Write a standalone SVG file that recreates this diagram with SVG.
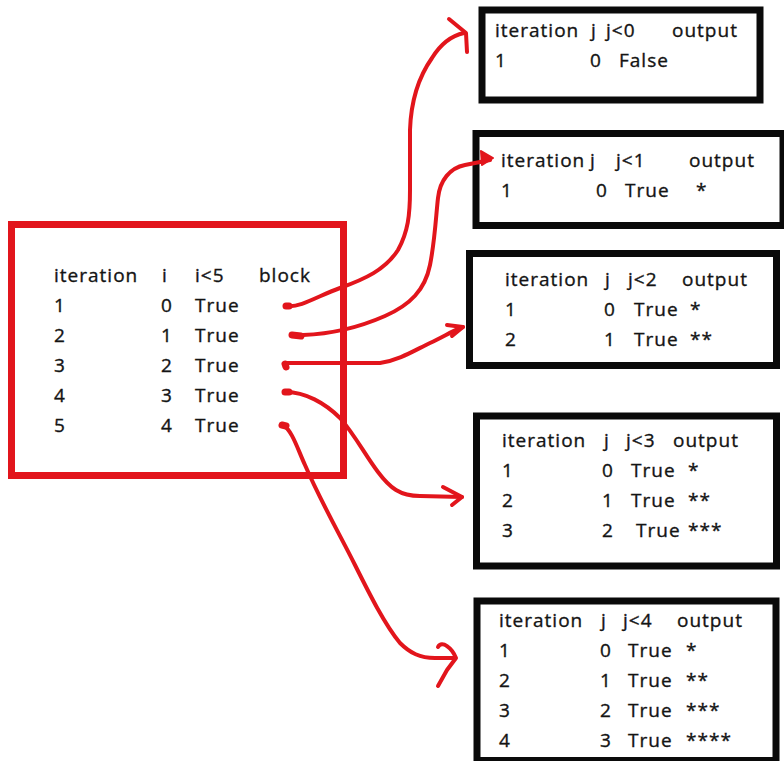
<svg xmlns="http://www.w3.org/2000/svg" width="784" height="761" viewBox="0 0 784 761">
  <style>
    text { font-family: "Open Sans", "Liberation Sans", sans-serif; font-size: 19px; letter-spacing: 1px; fill: #141414; stroke: #141414; stroke-width: 0.35; }
    .frame { fill: none; stroke: #0a0a0a; stroke-width: 7; }
    .outer { fill: none; stroke: #e2151c; stroke-width: 7; }
    .ink { fill: none; stroke: #e2151c; stroke-width: 4; stroke-linecap: round; stroke-linejoin: round; }
    .dot { fill: none; stroke: #e2151c; stroke-width: 7; stroke-linecap: round; }
  </style>
  <rect width="784" height="761" fill="#ffffff"/>

  <!-- outer loop: i from 0 to 4 -->
  <g id="outer-loop">
    <rect class="outer" x="11.5" y="224.5" width="332" height="251"/>
    <text x="54" y="282">iteration</text><text x="162" y="282">i</text><text x="195" y="282">i&lt;5</text><text x="259" y="282">block</text>
    <text x="54" y="312">1</text><text x="161" y="312">0</text><text x="195" y="312">True</text>
    <text x="54" y="342">2</text><text x="161" y="342">1</text><text x="195" y="342">True</text>
    <text x="54" y="372">3</text><text x="161" y="372">2</text><text x="195" y="372">True</text>
    <text x="54" y="402">4</text><text x="161" y="402">3</text><text x="195" y="402">True</text>
    <text x="54" y="432">5</text><text x="161" y="432">4</text><text x="195" y="432">True</text>
  </g>

  <!-- inner loop, i = 0 -->
  <g id="inner-0">
    <rect class="frame" x="482" y="10" width="278" height="90" stroke-width="6"/>
    <text x="495" y="37">iteration</text><text x="591" y="37">j</text><text x="606" y="37">j&lt;0</text><text x="672" y="37">output</text>
    <text x="495" y="67">1</text><text x="590" y="67">0</text><text x="619" y="67">False</text>
  </g>

  <!-- inner loop, i = 1 -->
  <g id="inner-1">
    <rect class="frame" x="476" y="133.5" width="307" height="92"/>
    <text x="501" y="167">iteration</text><text x="590" y="167">j</text><text x="616" y="167">j&lt;1</text><text x="689" y="167">output</text>
    <text x="501" y="197">1</text><text x="596" y="197">0</text><text x="625" y="197">True</text><text x="696" y="197">*</text>
  </g>

  <!-- inner loop, i = 2 -->
  <g id="inner-2">
    <rect class="frame" x="469.5" y="253.5" width="307" height="112"/>
    <text x="505" y="286">iteration</text><text x="605" y="286">j</text><text x="628" y="286">j&lt;2</text><text x="682" y="286">output</text>
    <text x="505" y="316">1</text><text x="604" y="316">0</text><text x="634" y="316">True</text><text x="690" y="316">*</text>
    <text x="505" y="346">2</text><text x="604" y="346">1</text><text x="634" y="346">True</text><text x="690" y="346">**</text>
  </g>

  <!-- inner loop, i = 3 -->
  <g id="inner-3">
    <rect class="frame" x="476.5" y="416" width="300" height="150"/>
    <text x="502" y="447">iteration</text><text x="604" y="447">j</text><text x="626" y="447">j&lt;3</text><text x="673" y="447">output</text>
    <text x="502" y="477">1</text><text x="602" y="477">0</text><text x="631" y="477">True</text><text x="688" y="477">*</text>
    <text x="502" y="507">2</text><text x="602" y="507">1</text><text x="631" y="507">True</text><text x="688" y="507">**</text>
    <text x="502" y="537">3</text><text x="602" y="537">2</text><text x="636" y="537">True</text><text x="688" y="537">***</text>
  </g>

  <!-- inner loop, i = 4 -->
  <g id="inner-4">
    <rect class="frame" x="477" y="601" width="299" height="159.5"/>
    <text x="499" y="627">iteration</text><text x="601" y="627">j</text><text x="623" y="627">j&lt;4</text><text x="677" y="627">output</text>
    <text x="499" y="657">1</text><text x="600" y="657">0</text><text x="628" y="657">True</text><text x="686" y="657">*</text>
    <text x="499" y="687">2</text><text x="600" y="687">1</text><text x="628" y="687">True</text><text x="686" y="687">**</text>
    <text x="499" y="717">3</text><text x="600" y="717">2</text><text x="628" y="717">True</text><text x="686" y="717">***</text>
    <text x="499" y="747">4</text><text x="600" y="747">3</text><text x="628" y="747">True</text><text x="686" y="747">****</text>
  </g>

  <!-- hand-drawn arrows from each block to its inner loop -->
  <g id="connectors">
    <path class="dot" d="M286,306 L289,306"/>
    <path class="ink" d="M287,306 C300,308 320,295 340,288 C365,279 385,270 398,250 C408,232 410,215 410,190 L410,130 C411,100 420,75 432,58 C440,45 450,36 464,33"/>
    <path class="ink" d="M449,19 L466,33 L467,52"/>

    <path class="dot" d="M292,335 L301,336"/>
    <path class="ink" d="M292,335 L303,335 C330,334 360,327 385,316 C410,305 425,290 430,265 C435,240 436,215 438,198 C440,180 450,168 465,165 L490,160"/>
    <path d="M481,151 L493,158 L482,165 Z" fill="#e2151c" stroke="#e2151c" stroke-width="2" stroke-linejoin="round"/>

    <path class="dot" d="M285,364 L286,367"/>
    <path class="ink" d="M285,363 L380,363 C400,360 415,350 430,343 C445,336 452,331 463,327"/>
    <path class="ink" d="M447,325 L463,327 L452,336"/>

    <path class="dot" d="M285,392 L289,392"/>
    <path class="ink" d="M286,392 C305,392 325,403 340,418 C355,435 365,455 378,472 C390,488 400,496 420,496 L462,497"/>
    <path class="ink" d="M443,487 L462,497 L452,505"/>

    <path class="dot" d="M282,425 L286,426"/>
    <path class="ink" d="M283,425 C292,430 298,450 305,465 C320,500 340,535 355,565 C370,595 385,625 400,643 C410,653 420,658 435,658 L455,658"/>
    <path class="ink" d="M438,647 C442,640 452,648 456,658 L447,670 L438,686"/>
  </g>
</svg>
